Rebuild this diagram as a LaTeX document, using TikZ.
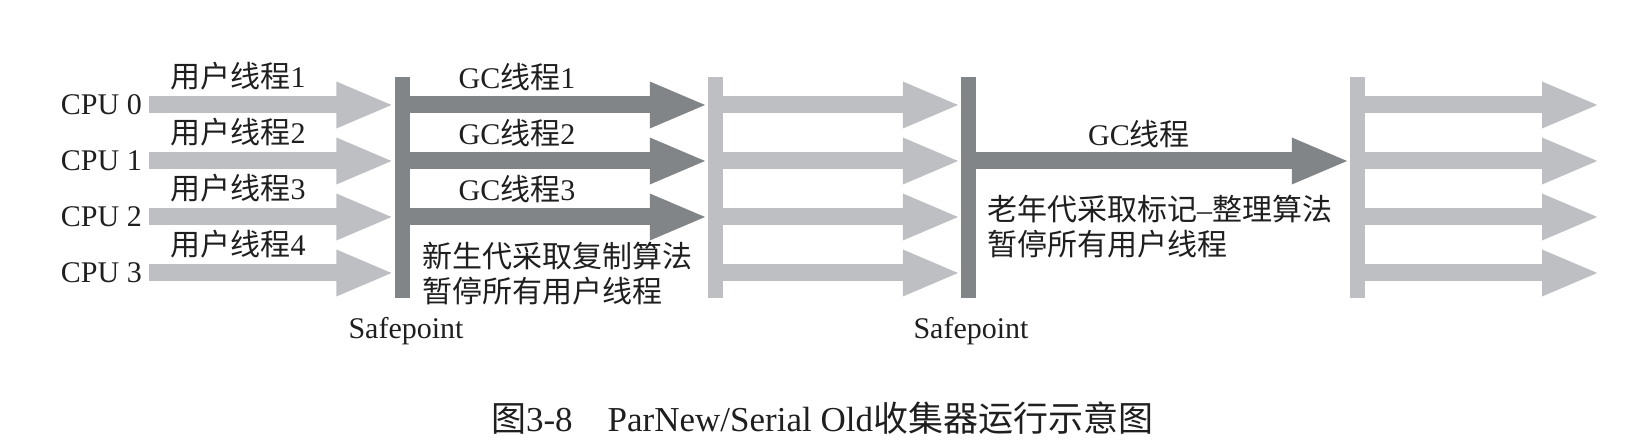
\documentclass[tikz,border=0pt]{standalone}
\usepackage{fontspec}
\setmainfont{Liberation Serif}
\newfontfamily\cjk{Noto Sans CJK SC}
\usetikzlibrary{arrows.meta}

\begin{document}
\begin{tikzpicture}[x=1pt, y=-1pt, lane/.style={line width=17pt, -{Triangle[length=58pt, width=42pt]}}, userlane/.style={lane, gcLight}, gclane/.style={lane, gcDark}, bar/.style={inner sep=0pt, minimum width=15pt, minimum height=221pt}, lbl/.style={font=\fontsize{30}{35}\selectfont, text=gcInk, inner sep=0pt}, cpu/.style={lbl, anchor=east}, note/.style={lbl, anchor=west, align=left}]
\definecolor{gcInk}{rgb}{0.12,0.12,0.12}
\definecolor{gcLight}{rgb}{0.74,0.75,0.76}
\definecolor{gcDark}{rgb}{0.51,0.52,0.53}
\useasboundingbox[fill=white] (0,0) rectangle (1638,446);
\node[cpu] (cpu0) at (142,105) {CPU 0};
\node[cpu] (cpu1) at (142,161) {CPU 1};
\node[cpu] (cpu2) at (142,217) {CPU 2};
\node[cpu] (cpu3) at (142,273) {CPU 3};
\node[bar, fill=gcDark] (safe1) at (402,188) {};
\node[bar, fill=gcLight] (resume1) at (715.5,188) {};
\node[bar, fill=gcDark] (safe2) at (968.5,188) {};
\node[bar, fill=gcLight] (resume2) at (1357.5,188) {};
\coordinate (tail) at (1600,188);
\draw[userlane] ([xshift=7pt]cpu0.east) -- (safe1.west |- cpu0);
\draw[userlane] ([xshift=7pt]cpu1.east) -- (safe1.west |- cpu1);
\draw[userlane] ([xshift=7pt]cpu2.east) -- (safe1.west |- cpu2);
\draw[userlane] ([xshift=7pt]cpu3.east) -- (safe1.west |- cpu3);
\draw[gclane] (safe1.east |- cpu0) -- (resume1.west |- cpu0);
\draw[gclane] (safe1.east |- cpu1) -- (resume1.west |- cpu1);
\draw[gclane] (safe1.east |- cpu2) -- (resume1.west |- cpu2);
\draw[userlane] (resume1.east |- cpu0) -- (safe2.west |- cpu0);
\draw[userlane] (resume1.east |- cpu1) -- (safe2.west |- cpu1);
\draw[userlane] (resume1.east |- cpu2) -- (safe2.west |- cpu2);
\draw[userlane] (resume1.east |- cpu3) -- (safe2.west |- cpu3);
\draw[gclane] (safe2.east |- cpu1) -- (resume2.west |- cpu1);
\draw[userlane] (resume2.east |- cpu0) -- (tail |- cpu0);
\draw[userlane] (resume2.east |- cpu1) -- (tail |- cpu1);
\draw[userlane] (resume2.east |- cpu2) -- (tail |- cpu2);
\draw[userlane] (resume2.east |- cpu3) -- (tail |- cpu3);
\node[lbl] (user1) at (238,76) {{\cjk 用户线程}1};
\node[lbl] (user2) at (238,132) {{\cjk 用户线程}2};
\node[lbl] (user3) at (238,188) {{\cjk 用户线程}3};
\node[lbl] (user4) at (238,244) {{\cjk 用户线程}4};
\node[lbl] (gc1) at (517,77) {GC{\cjk 线程}1};
\node[lbl] (gc2) at (517,133) {GC{\cjk 线程}2};
\node[lbl] (gc3) at (517,189) {GC{\cjk 线程}3};
\node[lbl] (gcold) at (1139,134) {GC{\cjk 线程}};
\node[note] (young) at (422,274) {\cjk 新生代采取复制算法\\\cjk 暂停所有用户线程};
\node[note] (old) at (987,227) {{\cjk 老年代采取标记}–{\cjk 整理算法}\\\cjk 暂停所有用户线程};
\node[lbl] (safetext1) at (406,331) {Safepoint};
\node[lbl] (safetext2) at (971,331) {Safepoint};
\node[lbl, font=\fontsize{35}{40}\selectfont] (caption) at (822,418) {{\cjk 图}3-8{\cjk 　}ParNew/Serial Old{\cjk 收集器运行示意图}};
\end{tikzpicture}
\end{document}
